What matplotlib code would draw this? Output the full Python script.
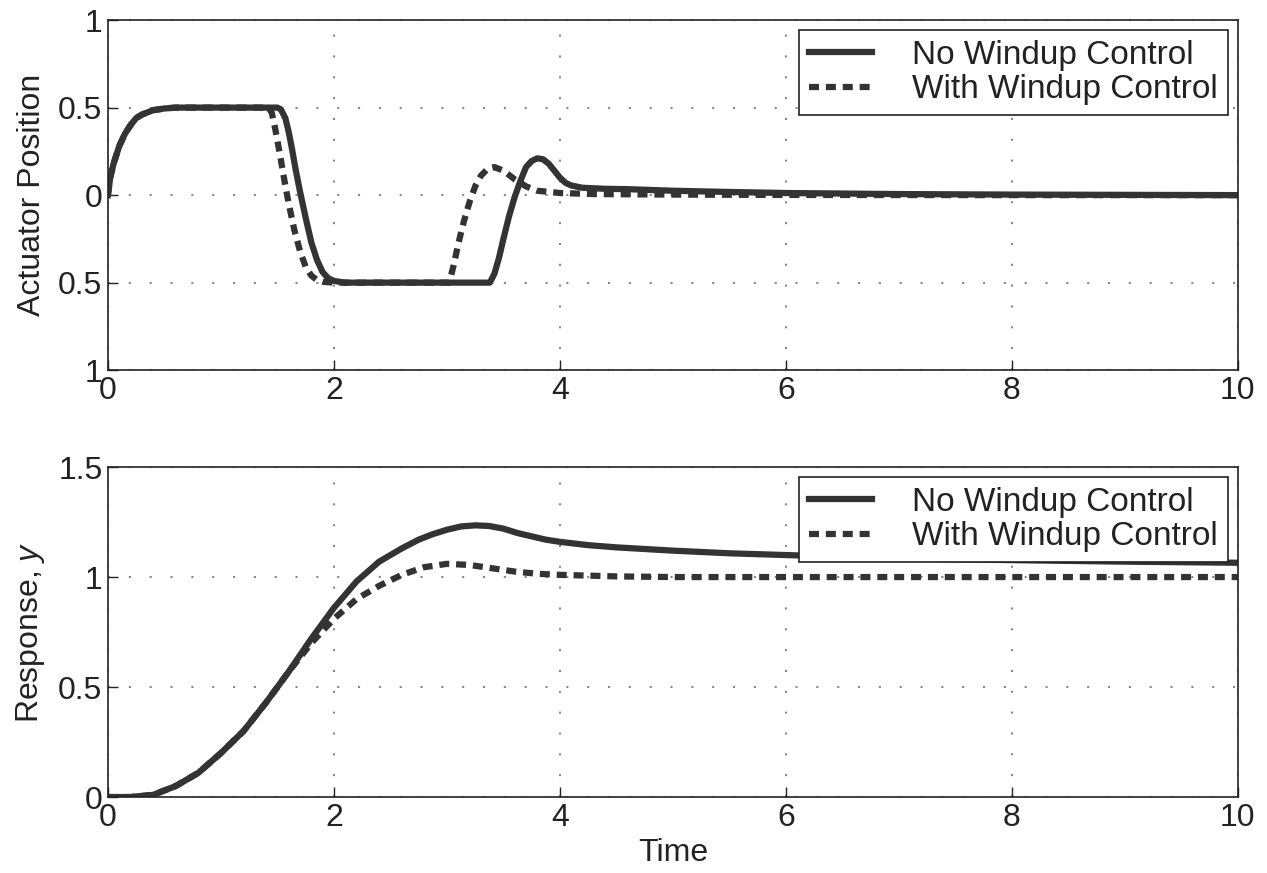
import numpy as np
import matplotlib
matplotlib.use("Agg")
import matplotlib.pyplot as plt

plt.rcParams['font.family'] = ['Liberation Sans', 'DejaVu Sans']
plt.rcParams['mathtext.fontset'] = 'custom'
plt.rcParams['mathtext.rm'] = 'Liberation Sans'
plt.rcParams['mathtext.it'] = 'Liberation Sans:italic'

# --- actuator position (top) ---
t_act_no = [0, 0.02, 0.05, 0.1, 0.15, 0.2, 0.25, 0.3, 0.4, 0.5, 0.6, 0.8, 1.5, 1.53,
            1.57, 1.6, 1.63, 1.66, 1.7, 1.75, 1.8, 1.85, 1.9, 1.95, 2.0, 2.1, 2.3,
            3.38, 3.42, 3.46, 3.5, 3.55, 3.6, 3.65, 3.7, 3.75, 3.8, 3.85, 3.9, 3.95,
            4.0, 4.05, 4.1, 4.2, 4.4, 4.6, 5.0, 5.5, 6.0, 7.0, 8.0, 10.0]
y_act_no = [0, 0.1, 0.18, 0.28, 0.35, 0.4, 0.44, 0.46, 0.485, 0.495, 0.5, 0.5, 0.5, 0.49,
            0.44, 0.36, 0.26, 0.15, 0.02, -0.13, -0.27, -0.37, -0.44, -0.475, -0.49, -0.5, -0.5,
            -0.5, -0.45, -0.36, -0.25, -0.12, -0.01, 0.08, 0.16, 0.195, 0.21, 0.205, 0.18, 0.14,
            0.1, 0.07, 0.055, 0.042, 0.036, 0.034, 0.025, 0.018, 0.012, 0.006, 0.003, 0.0]

t_act_with = [0, 0.02, 0.05, 0.1, 0.15, 0.2, 0.25, 0.3, 0.4, 0.5, 0.6, 0.8, 1.42, 1.45,
              1.48, 1.52, 1.56, 1.6, 1.65, 1.7, 1.75, 1.8, 1.85, 1.9, 2.0, 2.3,
              3.02, 3.06, 3.1, 3.15, 3.2, 3.25, 3.3, 3.36, 3.42, 3.5, 3.6, 3.7, 3.8,
              4.0, 4.3, 5.0, 6.0, 8.0, 10.0]
y_act_with = [0, 0.1, 0.18, 0.28, 0.35, 0.4, 0.44, 0.46, 0.485, 0.495, 0.5, 0.5, 0.5, 0.47,
              0.38, 0.24, 0.09, -0.05, -0.2, -0.32, -0.41, -0.46, -0.485, -0.495, -0.5, -0.5,
              -0.5, -0.4, -0.28, -0.15, -0.04, 0.05, 0.11, 0.15, 0.16, 0.14, 0.09, 0.05, 0.025,
              0.012, 0.006, 0.003, 0.001, 0.0, 0.0]

# --- response (bottom) ---
t_resp_no = [0, 0.2, 0.4, 0.6, 0.8, 1.0, 1.2, 1.4, 1.6, 1.8, 2.0, 2.2, 2.4, 2.6, 2.75,
             2.875, 3.0, 3.125, 3.25, 3.375, 3.5, 3.625, 3.75, 3.875, 4.0, 4.25, 4.5,
             5.0, 5.5, 6.0, 7.0, 8.0, 9.0, 10.0]
y_resp_no = [0, 0.0, 0.01, 0.05, 0.11, 0.2, 0.3, 0.43, 0.57, 0.72, 0.86, 0.98, 1.07, 1.13, 1.17,
             1.195, 1.215, 1.23, 1.235, 1.232, 1.22, 1.2, 1.185, 1.17, 1.16, 1.145, 1.135,
             1.12, 1.108, 1.1, 1.085, 1.077, 1.07, 1.065]

t_resp_with = [0, 0.2, 0.4, 0.6, 0.8, 1.0, 1.2, 1.4, 1.6, 1.8, 2.0, 2.2, 2.4, 2.6, 2.8,
               3.0, 3.2, 3.4, 3.6, 3.8, 4.0, 4.5, 5.0, 6.0, 8.0, 10.0]
y_resp_with = [0, 0.0, 0.01, 0.05, 0.11, 0.2, 0.3, 0.43, 0.57, 0.7, 0.81, 0.9, 0.96, 1.01, 1.045,
               1.06, 1.055, 1.04, 1.025, 1.015, 1.01, 1.003, 1.0, 1.0, 1.0, 1.0]

labels = ['No Windup Control', 'With Windup Control']
top_ticks = [-1, -0.5, 0, 0.5, 1]
top_ticklabels = ['1', '0.5', '0', '0.5', '1']
bot_ticks = [0, 0.5, 1, 1.5]
bot_ticklabels = ['0', '0.5', '1', '1.5']
x_ticks = [0, 2, 4, 6, 8, 10]

col = '#333333'
txtcol = '#222222'
lw = 4.5
dash = (0, (1.6, 1.1))
fs = 23
leg_fs = 24

fig = plt.figure(figsize=(12.67, 8.73), dpi=100)
ax1 = fig.add_axes([0.0852, 0.576, 0.8918, 0.401])
ax2 = fig.add_axes([0.0852, 0.087, 0.8918, 0.378])

for ax in (ax1, ax2):
    ax.grid(True, linestyle=(0, (1, 9)), color='#888888', linewidth=1.5)
    ax.set_xlim(0, 10)
    ax.set_xticks(x_ticks)
    ax.tick_params(direction='in', labelsize=fs, length=7, width=1, colors=txtcol, pad=4)
    for s in ax.spines.values():
        s.set_color(txtcol)
        s.set_linewidth(1.2)

ax1.plot(t_act_no, y_act_no, color=col, lw=lw, label=labels[0], solid_joinstyle='round')
ax1.plot(t_act_with, y_act_with, color=col, lw=lw, linestyle=dash, label=labels[1])
ax1.set_ylim(-1, 1)
ax1.set_yticks(top_ticks)
ax1.set_yticklabels(top_ticklabels)
ax1.set_ylabel('Actuator Position', fontsize=fs, color=txtcol, labelpad=8)

ax2.plot(t_resp_no, y_resp_no, color=col, lw=lw, label=labels[0], solid_joinstyle='round')
ax2.plot(t_resp_with, y_resp_with, color=col, lw=lw, linestyle=dash, label=labels[1])
ax2.set_ylim(0, 1.5)
ax2.set_yticks(bot_ticks)
ax2.set_yticklabels(bot_ticklabels)
ax2.set_ylabel('Response, $y$', fontsize=fs, color=txtcol, labelpad=8)
ax2.set_xlabel('Time', fontsize=fs, color=txtcol, labelpad=4)

for ax in (ax1, ax2):
    leg = ax.legend(loc='upper right', fontsize=leg_fs, fancybox=False, framealpha=1,
                    edgecolor=txtcol, handlelength=1.9, handletextpad=1.2, borderpad=0.3,
                    labelspacing=0.1, borderaxespad=0.3)
    leg.get_frame().set_linewidth(1.2)
    for txt in leg.get_texts():
        txt.set_color(txtcol)

fig.savefig('out.png', dpi=100)
